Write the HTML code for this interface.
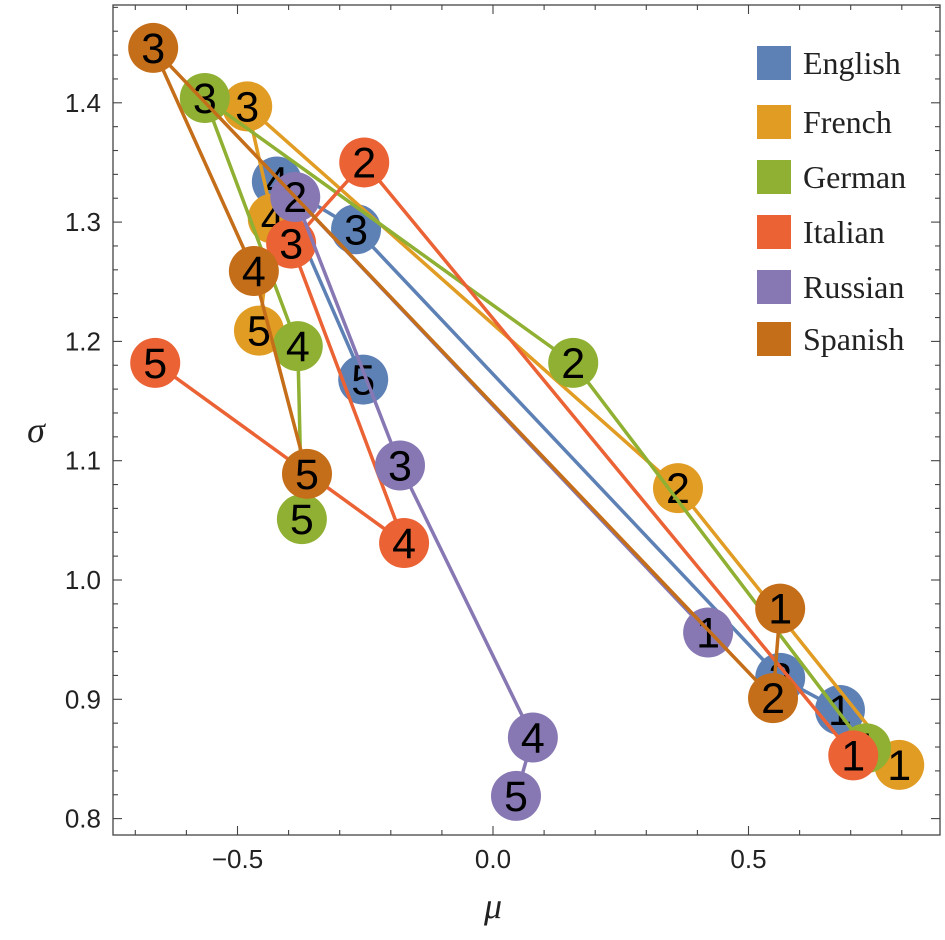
<!DOCTYPE html>
<html><head><meta charset="utf-8"><style>
html,body{margin:0;padding:0;background:#fff}
svg{display:block}
</style></head><body>
<svg id="c" width="945" height="940" viewBox="0 0 945 940" xmlns="http://www.w3.org/2000/svg"></svg>
<script>
const seriesNames = ["English","French","German","Italian","Russian","Spanish"];
const seriesColors = ["#5e81b5","#e19c24","#8fb032","#eb6235","#8778b3","#c56e1a"];
const pointLabels = ["1","2","3","4","5"];
const englishMu = [0.679,0.562,-0.268,-0.423,-0.254];
const englishSigma = [0.891,0.918,1.294,1.334,1.168];
const frenchMu = [0.795,0.362,-0.481,-0.431,-0.458];
const frenchSigma = [0.845,1.077,1.397,1.303,1.209];
const germanMu = [0.730,0.157,-0.564,-0.382,-0.374];
const germanSigma = [0.859,1.182,1.404,1.196,1.051];
const italianMu = [0.705,-0.252,-0.395,-0.174,-0.661];
const italianSigma = [0.853,1.350,1.282,1.031,1.182];
const russianMu = [0.421,-0.387,-0.182,0.078,0.045];
const russianSigma = [0.956,1.321,1.096,0.868,0.819];
const spanishMu = [0.562,0.548,-0.665,-0.468,-0.364];
const spanishSigma = [0.976,0.901,1.446,1.259,1.089];
const xTicks = [-0.5,0.0,0.5];
const xTickLabels = ["\u22120.5","0.0","0.5"];
const yTicks = [0.8,0.9,1.0,1.1,1.2,1.3,1.4];
const yTickLabels = ["0.8","0.9","1.0","1.1","1.2","1.3","1.4"];

const muData=[englishMu,frenchMu,germanMu,italianMu,russianMu,spanishMu];
const sigData=[englishSigma,frenchSigma,germanSigma,italianSigma,russianSigma,spanishSigma];
const L=113,R=940,T=5,B=835;
const xs=v=>493+v*511;
const ys=v=>580-(v-1.0)*1193;
const svg=document.getElementById('c');
const NS='http://www.w3.org/2000/svg';
function mk(tag,attrs,parent){const e=document.createElementNS(NS,tag);for(const k in attrs)e.setAttribute(k,attrs[k]);(parent||svg).appendChild(e);return e;}

const frame=mk('rect',{x:L,y:T,width:R-L,height:B-T,fill:'none',stroke:'#444','stroke-width':1.3});



const tg=mk('g',{stroke:'#444','stroke-width':1.1});


for(let i=-9;i<=9;i++){const v=i*0.1;const x=xs(v);if(x<L||x>R)continue;const major=Math.abs(v*2-Math.round(v*2))<1e-6;const len=major?9:5;
 mk('line',{x1:x,y1:B,x2:x,y2:B-len},tg);mk('line',{x1:x,y1:T,x2:x,y2:T+len},tg);}
for(let i=39;i<=75;i++){const v=i*0.02;const y=ys(v);if(y<T||y>B)continue;const major=i%5===0;const len=major?9:5;
 mk('line',{x1:L,y1:y,x2:L+len,y2:y},tg);mk('line',{x1:R,y1:y,x2:R-len,y2:y},tg);}

xTicks.forEach((v,i)=>{const t=mk('text',{x:xs(v),y:868,'text-anchor':'middle','font-family':'Liberation Sans, sans-serif','font-size':26,fill:'#222'});t.textContent=xTickLabels[i];
 });
yTicks.forEach((v,i)=>{const t=mk('text',{x:101,y:ys(v)+9,'text-anchor':'end','font-family':'Liberation Sans, sans-serif','font-size':26,fill:'#222'});t.textContent=yTickLabels[i];
 });

const xt=mk('text',{x:493,y:918,'text-anchor':'middle','font-family':'Liberation Serif, serif','font-style':'italic','font-size':36,fill:'#222'});xt.textContent='\u03bc';

const yt=mk('text',{x:36,y:442,'text-anchor':'middle','font-family':'Liberation Serif, serif','font-style':'italic','font-size':36,fill:'#222'});yt.textContent='\u03c3';


seriesNames.forEach((name,s)=>{
 const g=mk('g',{});
 
 
 const pts=muData[s].map((m,i)=>xs(m)+','+ys(sigData[s][i])).join(' ');
 const pl=mk('polyline',{points:pts,fill:'none',stroke:seriesColors[s],'stroke-width':3.5},g);
 
 
 muData[s].forEach((m,i)=>{
  const c=mk('circle',{cx:xs(m),cy:ys(sigData[s][i]),r:25,fill:seriesColors[s]},g);
  
  
  const t=mk('text',{x:xs(m),y:ys(sigData[s][i])+15,'text-anchor':'middle','font-family':'Liberation Sans, sans-serif','font-size':43,fill:'#000'},g);
  t.textContent=pointLabels[i];
  
  
 });
});

const lg=mk('g',{});


const legY=[63,122,177,232,287,339];
seriesNames.forEach((name,s)=>{
 const r=mk('rect',{x:757,y:legY[s]-17,width:34,height:34,fill:seriesColors[s]},lg);
 
 
 const t=mk('text',{x:803,y:legY[s]+11,'font-family':'Liberation Serif, serif','font-size':32,fill:'#222'},lg);
 t.textContent=name;
 
 
});
</script>
</body></html>
